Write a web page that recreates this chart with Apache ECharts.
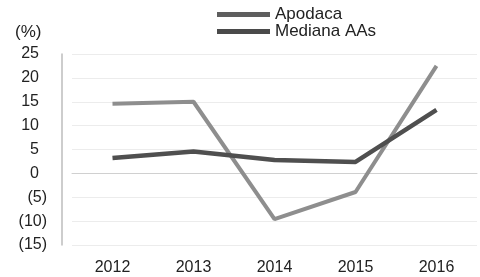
<!DOCTYPE html>
<html>
<head>
<meta charset="utf-8">
<script src="https://cdn.jsdelivr.net/npm/echarts@6/dist/echarts.min.js"></script>
<style>
  html, body { margin: 0; padding: 0; background: #fff; }
  #chart { width: 480px; height: 277px; }
</style>
</head>
<body>
<div id="chart"></div>
<script>
var years = ['2012', '2013', '2014', '2015', '2016'];
var apodaca = [14.6, 15.0, -9.6, -3.9, 22.5];
var mediana = [3.2, 4.6, 2.8, 2.4, 13.3];
var yTicks = [-15, -10, -5, 0, 5, 10, 15, 20, 25];

var myChart = echarts.init(document.getElementById('chart'));
var font = 'Liberation Sans, Arial, sans-serif';

// accounting style: negatives in brackets, positives keep room for the ")"
function fmt(v) {
    return v < 0 ? '(' + Math.abs(v) + ')' : '{p|' + v + '}';
}

var option = {
    backgroundColor: '#fff',
    animation: false,
    textStyle: { fontFamily: font },
    graphic: [{
        type: 'text',
        left: 15,
        top: 24,
        style: { text: '(%)', font: '17px ' + font, fill: '#222' }
    }],
    legend: {
        orient: 'vertical',
        left: 217,
        top: 6,
        padding: 0,
        itemWidth: 53,
        itemHeight: 5,
        itemGap: 0,
        icon: 'rect',
        textStyle: { fontSize: 17, color: '#222', fontFamily: font },
        data: [
            { name: 'Apodaca', itemStyle: { color: '#5e5e5e' } },
            { name: 'Mediana AAs', itemStyle: { color: '#4a4a4a' } }
        ]
    },
    grid: { left: 72, right: 3, top: 54, bottom: 32 },
    xAxis: {
        type: 'category',
        data: years,
        boundaryGap: true,
        axisLine: { show: true, lineStyle: { color: '#d0d0d0', width: 1 } },
        axisTick: { show: false },
        axisLabel: { fontSize: 16, color: '#222', margin: 15, fontFamily: font }
    },
    yAxis: {
        type: 'value',
        min: yTicks[0],
        max: yTicks[yTicks.length - 1],
        interval: 5,
        offset: 10,
        axisLine: { show: true, lineStyle: { color: '#bdbdbd', width: 1.5 } },
        axisTick: { show: false },
        axisLabel: {
            fontSize: 16, color: '#222', margin: 15, fontFamily: font, formatter: fmt,
            rich: { p: { fontSize: 16, color: '#222', fontFamily: font, padding: [0, 8, 0, 0] } }
        },
        splitLine: { show: true, lineStyle: { color: '#ececec', width: 1 } }
    },
    series: [{
        name: 'Apodaca',
        type: 'line',
        data: apodaca,
        symbol: 'none',
        color: '#8e8e8e',
        lineStyle: { color: '#8e8e8e', width: 4 }
    }, {
        name: 'Mediana AAs',
        type: 'line',
        data: mediana,
        symbol: 'none',
        color: '#4f4f4f',
        lineStyle: { color: '#4f4f4f', width: 4.5 }
    }]
};
myChart.setOption(option);
</script>
</body>
</html>
